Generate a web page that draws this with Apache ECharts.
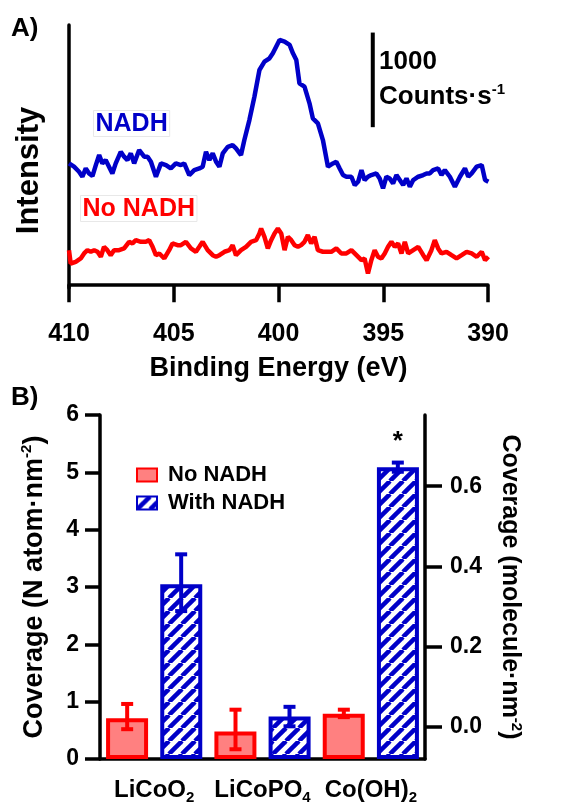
<!DOCTYPE html>
<html>
<head>
<meta charset="utf-8">
<title>N 1s spectra and NADH coverage</title>
<script src="https://cdn.jsdelivr.net/npm/echarts@6/dist/echarts.min.js"></script>
<style>
  html, body { margin: 0; padding: 0; background: #fff; }
  #chart { width: 571px; height: 805px; }
</style>
</head>
<body>
<div id="chart"></div>
<script>
// ---- A) N 1s spectra (binding energy in eV, intensity in counts/s, arbitrary offset) ----
var nadhEnergy = [410.00, 409.76, 409.52, 409.36, 409.20, 409.04, 408.88, 408.72, 408.56, 408.41,
  408.25, 408.09, 407.93, 407.77, 407.53, 407.37, 407.21, 407.05, 406.89, 406.65,
  406.41, 406.25, 406.09, 405.85, 405.61, 405.37, 405.14, 404.90, 404.66, 404.50,
  404.26, 404.02, 403.78, 403.62, 403.46, 403.30, 403.14, 402.98, 402.82, 402.66,
  402.42, 402.19, 402.03, 401.79, 401.63, 401.39, 401.15, 400.91, 400.67, 400.43,
  400.27, 399.95, 399.71, 399.47, 399.31, 399.15, 399.00, 398.76, 398.52, 398.36,
  398.12, 397.88, 397.64, 397.40, 397.24, 397.08, 396.92, 396.76, 396.52, 396.36,
  396.20, 396.04, 395.89, 395.73, 395.57, 395.33, 395.17, 395.01, 394.85, 394.69,
  394.53, 394.37, 394.21, 394.05, 393.89, 393.73, 393.57, 393.33, 393.09, 392.93,
  392.78, 392.62, 392.38, 392.22, 392.06, 391.82, 391.58, 391.34, 391.10, 390.94,
  390.78, 390.54, 390.30, 390.14, 389.98];
var nadhCounts = [1287, 1252, 1199, 1146, 1234, 1181, 1153, 1269, 1375, 1287,
  1322, 1252, 1181, 1287, 1410, 1358, 1322, 1393, 1287, 1428,
  1358, 1358, 1305, 1146, 1287, 1269, 1234, 1287, 1269, 1287,
  1164, 1216, 1234, 1252, 1410, 1322, 1393, 1305, 1252, 1393,
  1463, 1481, 1446, 1375, 1534, 1745, 1992, 2274, 2362, 2398,
  2451, 2592, 2574, 2539, 2451, 2380, 2133, 2098, 1922, 1763,
  1710, 1534, 1252, 1287, 1305, 1234, 1164, 1146, 1146, 1058,
  1093, 1216, 1111, 1146, 1164, 1181, 1128, 1023, 1146, 1128,
  1075, 1164, 1111, 1058, 1128, 1040, 1111, 1146, 1164, 1181,
  1181, 1216, 1234, 1164, 1216, 1146, 1040, 1146, 1234, 1146,
  1181, 1252, 1269, 1111, 1093];

var noNadhEnergy = [410.00, 409.92, 409.68, 409.44, 409.28, 409.12, 408.96, 408.80, 408.64, 408.48,
  408.33, 408.17, 408.01, 407.85, 407.61, 407.37, 407.13, 406.97, 406.81, 406.57,
  406.33, 406.17, 406.01, 405.85, 405.69, 405.45, 405.22, 405.06, 404.82, 404.66,
  404.42, 404.18, 403.94, 403.78, 403.62, 403.38, 403.14, 402.98, 402.82, 402.58,
  402.34, 402.19, 402.03, 401.79, 401.55, 401.31, 401.07, 400.91, 400.83, 400.67,
  400.51, 400.35, 400.19, 400.03, 399.87, 399.71, 399.55, 399.39, 399.23, 399.07,
  398.92, 398.76, 398.60, 398.44, 398.28, 398.12, 397.88, 397.72, 397.48, 397.24,
  397.00, 396.76, 396.52, 396.28, 396.04, 395.89, 395.73, 395.57, 395.41, 395.25,
  395.09, 394.93, 394.77, 394.61, 394.45, 394.29, 394.13, 393.97, 393.81, 393.57,
  393.33, 393.09, 392.93, 392.70, 392.54, 392.38, 392.22, 391.98, 391.74, 391.50,
  391.26, 391.02, 390.78, 390.54, 390.30, 390.14, 389.98];
var noNadhCounts = [370, 229, 247, 282, 335, 370, 353, 370, 353, 300,
  405, 370, 317, 370, 370, 388, 458, 441, 476, 458,
  458, 476, 405, 317, 335, 282, 370, 441, 423, 423,
  458, 388, 353, 405, 458, 370, 317, 300, 317, 353,
  370, 423, 317, 370, 405, 458, 476, 547, 599, 511,
  388, 476, 547, 599, 547, 370, 511, 476, 423, 405,
  423, 458, 529, 441, 511, 370, 353, 353, 353, 388,
  335, 335, 370, 317, 264, 282, 123, 264, 370, 300,
  282, 335, 405, 458, 405, 441, 335, 458, 335, 370,
  405, 317, 264, 370, 476, 388, 335, 353, 317, 282,
  317, 353, 335, 300, 353, 264, 300];

// 1000 counts/s scale bar
var scaleBarEnergy = 395.5;
var scaleBarCounts = [1670, 2670];

// ---- B) coverage ----
var materials = ['LiCoO2', 'LiCoPO4', 'Co(OH)2'];
var noNadhCoverage = [0.71, 0.48, 0.79];
var noNadhLow = [0.52, 0.17, 0.73];
var noNadhHigh = [0.96, 0.86, 0.86];
var withNadhCoverage = [3.05, 0.74, 5.09];
var withNadhLow = [2.58, 0.57, 5.01];
var withNadhHigh = [3.57, 0.91, 5.17];
var moleculeTicks = [0, 0.2, 0.4, 0.6];

var FONT = 'Liberation Sans, Arial, sans-serif';
var BLUE = '#0000c8';
var RED = '#ff0000';

function zip(a, b) {
  return a.map(function (v, i) { return [v, b[i]]; });
}

// diagonal hatch for the "With NADH" bars
function hatch() {
  var p = 13;
  var c = document.createElement('canvas');
  c.width = p; c.height = p;
  var ctx = c.getContext('2d');
  ctx.fillStyle = '#fff';
  ctx.fillRect(0, 0, p, p);
  ctx.strokeStyle = BLUE;
  ctx.lineWidth = 4.5;
  for (var k = -1; k <= 1; k++) {
    ctx.beginPath();
    ctx.moveTo(k * p, p);
    ctx.lineTo(k * p + p, 0);
    ctx.stroke();
  }
  return c;
}

function errorBars(offset, color) {
  return function (params, api) {
    var idx = api.value(0);
    var top = api.coord([idx, api.value(2)]);
    var bot = api.coord([idx, api.value(1)]);
    var x = top[0] + offset;
    var st = { stroke: color, lineWidth: 4 };
    return {
      type: 'group',
      children: [
        { type: 'line', shape: { x1: x, y1: top[1], x2: x, y2: bot[1] }, style: st },
        { type: 'line', shape: { x1: x - 6, y1: top[1], x2: x + 6, y2: top[1] }, style: st },
        { type: 'line', shape: { x1: x - 6, y1: bot[1], x2: x + 6, y2: bot[1] }, style: st }
      ]
    };
  };
}

function errData(low, high) {
  return low.map(function (v, i) { return [i, v, high[i]]; });
}

var withNadhData = withNadhCoverage.map(function (v, i) {
  if (i === 2) {
    return { value: v, label: { show: true, position: 'top', distance: 12, formatter: '*',
      color: '#000', fontSize: 26, fontWeight: 'bold', fontFamily: FONT } };
  }
  return v;
});

function richName(size) {
  return {
    t: { fontSize: size, fontWeight: 'bold', fontFamily: FONT, color: '#000', lineHeight: size + 4 },
    sup: { fontSize: 15, fontWeight: 'bold', fontFamily: FONT, color: '#000', lineHeight: 15, verticalAlign: 'top' }
  };
}

var chart = echarts.init(document.getElementById('chart'));

var axisLine = { show: true, lineStyle: { color: '#000', width: 3.5 } };
var boldText = { color: '#000', fontWeight: 'bold', fontFamily: FONT };

chart.setOption({
  animation: false,
  backgroundColor: '#fff',
  grid: [
    { left: 69, right: 83, top: 25, bottom: 517 },
    { left: 100, right: 146, top: 415, bottom: 42 }
  ],
  legend: {
    data: ['No NADH', 'With NADH'],
    orient: 'vertical',
    left: 131, top: 459,
    itemWidth: 20, itemHeight: 13, itemGap: 6,
    icon: 'rect',
    textStyle: Object.assign({ fontSize: 22, padding: [0, 0, 0, 6] }, boldText)
  },
  xAxis: [
    {
      gridIndex: 0, type: 'value', inverse: true,
      min: 390, max: 410, interval: 5,
      axisLine: axisLine,
      axisTick: { show: true, length: 17, lineStyle: { color: '#000', width: 3.5 } },
      axisLabel: Object.assign({ fontSize: 25, margin: 34 }, boldText),
      splitLine: { show: false },
      name: 'Binding Energy (eV)', nameLocation: 'middle', nameGap: 67,
      nameTextStyle: Object.assign({ fontSize: 27 }, boldText)
    },
    {
      gridIndex: 1, type: 'category', data: materials,
      axisLine: axisLine,
      axisTick: { show: false },
      axisLabel: Object.assign({
        margin: 16, interval: 0,
        formatter: function (name) {
          return '{n|' + name.replace(/(\d)/g, '}{s|$1}{n|') + '}';
        },
        rich: {
          n: { fontSize: 24, fontWeight: 'bold', fontFamily: FONT, color: '#000', lineHeight: 30 },
          s: { fontSize: 15, fontWeight: 'bold', fontFamily: FONT, color: '#000', lineHeight: 15,
               verticalAlign: 'top', padding: [15, 0, 0, 0] }
        }
      }, boldText)
    }
  ],
  yAxis: [
    {
      gridIndex: 0, type: 'value', min: -30, max: 2750,
      axisLine: axisLine,
      axisTick: { show: false }, axisLabel: { show: false }, splitLine: { show: false },
      name: 'Intensity', nameLocation: 'middle', nameGap: 24,
      nameTextStyle: Object.assign({ fontSize: 31, padding: [0, 28, 0, 0] }, boldText)
    },
    {
      gridIndex: 1, type: 'value', min: 0, max: 6, interval: 1,
      axisLine: axisLine,
      axisTick: { show: true, length: 15, lineStyle: { color: '#000', width: 3.5 } },
      axisLabel: Object.assign({ fontSize: 23, margin: 21 }, boldText),
      splitLine: { show: false },
      name: '{t|Coverage (N atom·nm}{sup|-2}{t|)}', nameLocation: 'middle', nameGap: 50,
      nameTextStyle: { rich: richName(27) }
    },
    {
      gridIndex: 1, type: 'value', position: 'right', min: -0.0815, max: 0.778,
      axisLine: axisLine,
      axisTick: { show: true, length: 17, customValues: moleculeTicks, lineStyle: { color: '#000', width: 3.5 } },
      axisLabel: Object.assign({ fontSize: 23, margin: 25, customValues: moleculeTicks,
        formatter: function (v) { return v.toFixed(1); } }, boldText),
      splitLine: { show: false },
      name: '{t|Coverage (molecule·nm}{sup|-2}{t|)}', nameLocation: 'middle', nameGap: 70, nameRotate: -90,
      nameTextStyle: { rich: richName(25) }
    }
  ],
  series: [
    {
      name: 'NADH spectrum', type: 'line', xAxisIndex: 0, yAxisIndex: 0,
      data: zip(nadhEnergy, nadhCounts), symbol: 'none',
      lineStyle: { color: BLUE, width: 4.5 }
    },
    {
      name: 'No NADH spectrum', type: 'line', xAxisIndex: 0, yAxisIndex: 0,
      data: zip(noNadhEnergy, noNadhCounts), symbol: 'none',
      lineStyle: { color: RED, width: 4.5 }
    },
    {
      name: 'scale bar', type: 'line', xAxisIndex: 0, yAxisIndex: 0,
      data: scaleBarCounts.map(function (c) { return [scaleBarEnergy, c]; }),
      symbol: 'none', lineStyle: { color: '#000', width: 4 }
    },
    {
      name: 'No NADH', type: 'bar', xAxisIndex: 1, yAxisIndex: 1,
      data: noNadhCoverage, barWidth: 42, barGap: '29%',
      itemStyle: { color: '#ff8080', borderColor: RED, borderWidth: 4 }
    },
    {
      name: 'With NADH', type: 'bar', xAxisIndex: 1, yAxisIndex: 1,
      data: withNadhData, barWidth: 42,
      itemStyle: { color: { image: hatch(), repeat: 'repeat' }, borderColor: BLUE, borderWidth: 4 }
    },
    {
      type: 'custom', xAxisIndex: 1, yAxisIndex: 1, z: 5,
      renderItem: errorBars(-27, RED),
      encode: { x: 0, y: [1, 2] },
      data: errData(noNadhLow, noNadhHigh)
    },
    {
      type: 'custom', xAxisIndex: 1, yAxisIndex: 1, z: 5,
      renderItem: errorBars(27, BLUE),
      encode: { x: 0, y: [1, 2] },
      data: errData(withNadhLow, withNadhHigh)
    }
  ],
  graphic: [
    { type: 'text', left: 11, top: 16, style: { text: 'A)', font: 'bold 26px ' + FONT, fill: '#000' } },
    { type: 'text', left: 11, top: 385, style: { text: 'B)', font: 'bold 26px ' + FONT, fill: '#000' } },
    { type: 'text', left: 93, top: 110, style: { text: 'NADH', font: 'bold 25px ' + FONT, fill: BLUE,
      borderColor: '#e8e8e8', borderWidth: 1, padding: [1, 2, 0, 2] } },
    { type: 'text', left: 80, top: 195, style: { text: 'No NADH', font: 'bold 25px ' + FONT, fill: RED,
      borderColor: '#e8e8e8', borderWidth: 1, padding: [1, 2, 0, 2] } },
    { type: 'text', left: 379, top: 49, style: { text: '1000', font: 'bold 26px ' + FONT, fill: '#000' } },
    { type: 'text', left: 379, top: 82, style: {
      text: '{t|Counts·s}{sup|-1}',
      rich: {
        t: { font: 'bold 26px ' + FONT, fill: '#000', lineHeight: 30 },
        sup: { font: 'bold 15px ' + FONT, fill: '#000', lineHeight: 15, verticalAlign: 'top' }
      }
    } }
  ]
});
</script>
</body>
</html>
